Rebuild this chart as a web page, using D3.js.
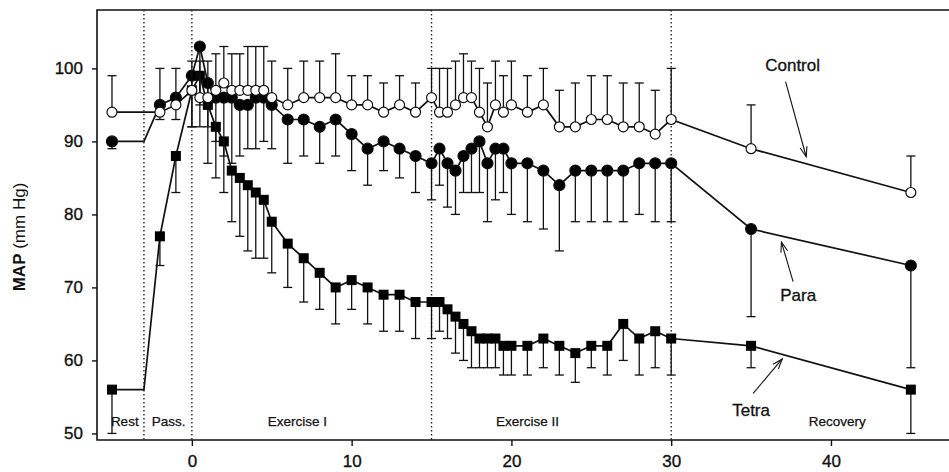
<!DOCTYPE html>
<html>
<head>
<meta charset="utf-8">
<script src="https://cdn.jsdelivr.net/npm/d3@7"></script>
<style>
  body { margin: 0; background: #fff; }
  svg { display: block; font-family: "Liberation Sans", Arial, sans-serif; }
</style>
</head>
<body>
<svg id="chart" width="949" height="472"></svg>
<script>
// time points (min); -3 is the end of rest, drawn as a line corner only
const times = [-5, -3, -2, -1, 0, 0.5, 1, 1.5, 2, 2.5, 3, 3.5, 4, 4.5, 5, 6, 7, 8, 9, 10, 11, 12, 13, 14, 15,
  15.5, 16, 16.5, 17, 17.5, 18, 18.5, 19, 19.5, 20, 21, 22, 23, 24, 25, 26, 27, 28, 29, 30, 35, 45];

const controlMean = [94, 94, 94, 95, 97, 96, 96, 97, 98, 97, 97, 97, 97, 97, 96, 95, 96, 96, 96, 95, 95, 94, 95, 94, 96,
  94, 94, 95, 96, 96, 94, 92, 95, 94, 95, 94, 95, 92, 92, 93, 93, 92, 92, 91, 93, 89, 83];
const controlErr = [5, null, 6, 5, 4, 5, 5, 5, 5, 5, 5, 6, 6, 6, 5, 5, 5, 5, 6, 4, 4, 4, 4, 4, 4,
  6, 6, 6, 6, 5, 6, 6, 6, 5, 6, 5, 5, 5, 6, 6, 6, 6, 6, 6, 7, 6, 5];

const paraMean = [90, 90, 95, 96, 99, 103, 98, 96, 96, 96, 95, 95, 96, 96, 95, 93, 93, 92, 93, 91, 89, 90, 89, 88, 87,
  89, 87, 86, 88, 89, 90, 87, 89, 89, 87, 87, 86, 84, 86, 86, 86, 86, 87, 87, 87, 78, 73];
const paraErr = [1, null, 2, 3, 7, 8, 6, 6, 8, 9, 7, 6, 7, 6, 6, 6, 5, 5, 5, 5, 5, 4, 4, 5, 5,
  5, 6, 6, 5, 6, 7, 8, 7, 6, 7, 8, 8, 9, 7, 7, 7, 7, 7, 8, 8, 12, 14];

const tetraMean = [56, 56, 77, 88, 97, 99, 95, 92, 90, 86, 85, 84, 83, 82, 79, 76, 74, 72, 70, 71, 70, 69, 69, 68, 68,
  68, 67, 66, 65, 64, 63, 63, 63, 62, 62, 62, 63, 62, 61, 62, 62, 65, 63, 64, 63, 62, 56];
const tetraErr = [6, null, 4, 5, 5, 7, 8, 7, 7, 7, 8, 9, 9, 8, 7, 6, 6, 5, 5, 4, 5, 5, 5, 5, 5,
  4, 4, 5, 5, 5, 4, 4, 4, 4, 4, 4, 4, 4, 4, 3, 4, 5, 5, 5, 5, 3, 6];

const phaseBounds = [-3, 0, 15, 30];
const phaseLabels = [
  { text: "Rest", t: -4.2 }, { text: "Pass.", t: -1.45 }, { text: "Exercise I", t: 6.6 },
  { text: "Exercise II", t: 21 }, { text: "Recovery", t: 40.4 }
];
const xTicks = [0, 10, 20, 30, 40];
const yTicks = [50, 60, 70, 80, 90, 100];

// callouts in data units: label position, arrow tail -> arrow head
const callouts = [
  { text: "Control", t: 37.6, v: 99.6, from: [37.16, 98.2], to: [38.45, 87.9] },
  { text: "Para", t: 37.95, v: 68.1, from: [37.63, 70.8], to: [36.9, 76.2] },
  { text: "Tetra", t: 35.0, v: 52.4, from: [35.13, 55.5], to: [36.95, 60.2] }
];

const svg = d3.select("#chart");
const plotLeft = 97, plotRight = 949, plotTop = 10, plotBottom = 440;

const x = d3.scaleLinear().domain([-6, 47.2]).range([96, 946]);
const y = d3.scaleLinear().domain([49.1, 108]).range([plotBottom, plotTop]);

// phase separators
svg.selectAll(".phase")
  .data(phaseBounds)
  .enter().append("line")
  .attr("x1", d => x(d)).attr("x2", d => x(d))
  .attr("y1", plotTop).attr("y2", plotBottom)
  .attr("stroke", "#222").attr("stroke-width", 1.4)
  .attr("stroke-dasharray", "1.5,2.5");

// frame (left, top, bottom)
svg.append("path")
  .attr("d", `M${plotRight},${plotTop}H${plotLeft}V${plotBottom}H${plotRight}`)
  .attr("fill", "none").attr("stroke", "#111").attr("stroke-width", 1.6);

// axes
const yAxis = svg.append("g")
  .attr("transform", `translate(${plotLeft},0)`)
  .call(d3.axisLeft(y).tickValues(yTicks).tickSize(5).tickPadding(9));
const xAxis = svg.append("g")
  .attr("transform", `translate(0,${plotBottom})`)
  .call(d3.axisBottom(x).tickValues(xTicks).tickSize(6).tickPadding(9));
[xAxis, yAxis].forEach(g => {
  g.select(".domain").remove();
  g.selectAll("line").attr("stroke", "#111").attr("stroke-width", 1.4);
  g.selectAll("text").attr("fill", "#111").style("font-size", "17px")
    .attr("stroke", "#111").attr("stroke-width", 0.35)
    .style("font-family", "'Liberation Sans', Arial, sans-serif");
});

// y axis title
const ytitle = svg.append("text")
  .attr("transform", "translate(25,237) rotate(-90)")
  .attr("text-anchor", "middle")
  .style("font-size", "17px").attr("fill", "#111");
ytitle.append("tspan").attr("font-weight", "bold").text("MAP");
ytitle.append("tspan").text(" (mm Hg)");

// phase labels
svg.selectAll(".phase-label")
  .data(phaseLabels)
  .enter().append("text")
  .attr("x", d => x(d.t)).attr("y", 425.5)
  .attr("text-anchor", "middle")
  .style("font-size", "13.5px").attr("fill", "#111")
  .attr("stroke", "#111").attr("stroke-width", 0.25)
  .text(d => d.text);

// series
function build(mean, err) {
  return times.map((t, i) => ({ t: t, v: mean[i], e: err[i] }));
}
const series = [
  { name: "Tetra", data: build(tetraMean, tetraErr), dir: -1, shape: "square", fill: "#000" },
  { name: "Para", data: build(paraMean, paraErr), dir: -1, shape: "circle", fill: "#000" },
  { name: "Control", data: build(controlMean, controlErr), dir: 1, shape: "circle", fill: "#fff" }
];

const line = d3.line().x(d => x(d.t)).y(d => y(d.v));

series.forEach(s => {
  const g = svg.append("g").attr("class", "series-" + s.name);
  const pts = s.data.filter(d => d.e !== null);

  // error bars (one-sided)
  const eb = g.selectAll(".err").data(pts).enter().append("g");
  eb.append("line")
    .attr("x1", d => x(d.t)).attr("x2", d => x(d.t))
    .attr("y1", d => y(d.v)).attr("y2", d => y(d.v + s.dir * d.e))
    .attr("stroke", "#111").attr("stroke-width", 1.3);
  eb.append("line")
    .attr("x1", d => x(d.t) - 4.5).attr("x2", d => x(d.t) + 4.5)
    .attr("y1", d => y(d.v + s.dir * d.e)).attr("y2", d => y(d.v + s.dir * d.e))
    .attr("stroke", "#111").attr("stroke-width", 1.3);

  g.append("path")
    .datum(s.data)
    .attr("d", line)
    .attr("fill", "none").attr("stroke", "#111").attr("stroke-width", 1.7);

  if (s.shape === "square") {
    g.selectAll(".pt").data(pts).enter().append("rect")
      .attr("x", d => x(d.t) - 5).attr("y", d => y(d.v) - 5)
      .attr("width", 10).attr("height", 10)
      .attr("fill", s.fill);
  } else {
    g.selectAll(".pt").data(pts).enter().append("circle")
      .attr("cx", d => x(d.t)).attr("cy", d => y(d.v))
      .attr("r", s.fill === "#000" ? 5.5 : 5)
      .attr("fill", s.fill).attr("stroke", "#111").attr("stroke-width", 1.2);
  }
});

// callouts
svg.append("defs").append("marker")
  .attr("id", "head")
  .attr("viewBox", "-10 -5 12 10")
  .attr("markerWidth", 12).attr("markerHeight", 10)
  .attr("markerUnits", "userSpaceOnUse")
  .attr("orient", "auto")
  .append("path")
  .attr("d", "M-10,-3.5L0,0L-10,3.5")
  .attr("fill", "none").attr("stroke", "#111").attr("stroke-width", 1.1);

svg.selectAll(".callout-line")
  .data(callouts)
  .enter().append("line")
  .attr("x1", d => x(d.from[0])).attr("y1", d => y(d.from[1]))
  .attr("x2", d => x(d.to[0])).attr("y2", d => y(d.to[1]))
  .attr("stroke", "#111").attr("stroke-width", 1.1)
  .attr("marker-end", "url(#head)");

svg.selectAll(".callout-text")
  .data(callouts)
  .enter().append("text")
  .attr("x", d => x(d.t)).attr("y", d => y(d.v))
  .attr("text-anchor", "middle")
  .style("font-size", "17px").attr("fill", "#111")
  .attr("stroke", "#111").attr("stroke-width", 0.3)
  .text(d => d.text);
</script>
</body>
</html>
